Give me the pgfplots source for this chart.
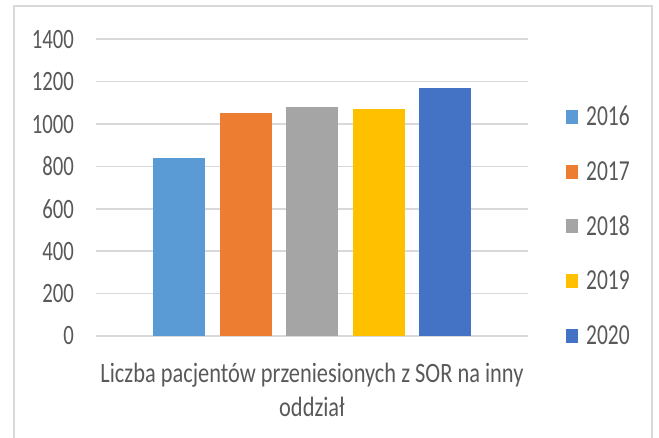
\documentclass[border=0pt]{standalone}
\usepackage{pgfplots}
\pgfplotsset{compat=1.18}
\usepackage{fontspec}
\setmainfont{Carlito}[FakeStretch=0.74]
\newfontfamily\labelfont{Carlito}[FakeStretch=0.8]

\definecolor{c2016}{HTML}{5B9BD5}
\definecolor{c2017}{HTML}{ED7D31}
\definecolor{c2018}{HTML}{A5A5A5}
\definecolor{c2019}{HTML}{FFC000}
\definecolor{c2020}{HTML}{4472C4}
\definecolor{gridgray}{HTML}{D9D9D9}
\definecolor{framegray}{HTML}{D9D9D9}
\definecolor{textgray}{HTML}{595959}

\begin{document}
\begin{tikzpicture}
\useasboundingbox (0pt,0pt) rectangle (659pt,438pt);
% chart frame
\draw[framegray, line width=2pt] (14pt,0pt) -- (14pt,432pt) -- (652pt,432pt) -- (652pt,0pt);
\begin{axis}[
  at={(96pt,102pt)}, anchor=south west,
  scale only axis, width=432pt, height=296.7pt,
  xmin=-1, xmax=1, ymin=0, ymax=1400,
  ytick={0,200,...,1400}, xtick=\empty,
  ybar=14.5pt, bar width=52pt,
  ymajorgrids,
  major grid style={draw=gridgray, line width=1.6pt},
  axis line style={draw=none},
  major tick length=0pt,
  /pgf/number format/assume math mode=true,
  /pgf/number format/1000 sep={},
  tick label style={font=\fontsize{28}{34}\selectfont, text=textgray},
  yticklabel style={inner sep=0pt, xshift=-22pt},
  xlabel={Liczba pacjentów przeniesionych z SOR na inny\\oddział},
  xlabel style={font=\labelfont\fontsize{28}{34}\selectfont, text=textgray, align=center,
    at={(axis description cs:0.5,0)}, anchor=north, yshift=-24pt},
  legend style={draw=none, fill=none, at={(1.088,0.3707)}, anchor=west,
    font=\fontsize{29}{34}\selectfont, text=textgray,
    legend cell align=left, inner sep=0pt, row sep=34pt,
    nodes={inner sep=0pt}},
  legend image code/.code={\fill[#1] (0pt,-7pt) rectangle (11.5pt,7pt); \path (20pt,0pt);},
]
\addplot[fill=c2016, draw=none] coordinates {(0,841)};
\addplot[fill=c2017, draw=none] coordinates {(0,1050)};
\addplot[fill=c2018, draw=none] coordinates {(0,1082)};
\addplot[fill=c2019, draw=none] coordinates {(0,1073)};
\addplot[fill=c2020, draw=none] coordinates {(0,1170)};
\legend{2016,2017,2018,2019,2020}
\end{axis}
\end{tikzpicture}
\end{document}
